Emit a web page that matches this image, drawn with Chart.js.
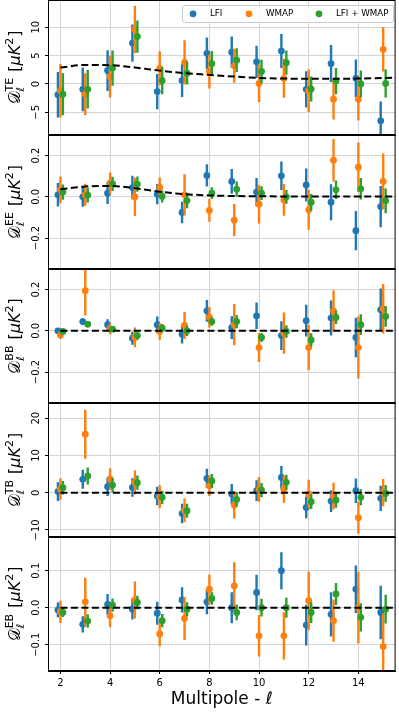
<!DOCTYPE html>
<html>
<head>
<meta charset="utf-8">
<script src="https://cdn.jsdelivr.net/npm/chart.js@4.4.1/dist/chart.umd.min.js"></script>
<style>
  body { margin: 0; background: #fff; width: 399px; height: 718px; overflow: hidden; position: relative; }
  canvas { position: absolute; left: 0; }
</style>
</head>
<body>
<script>
// Multipoles and the small offsets used to separate the three estimates
const ells = [2, 3, 4, 5, 6, 7, 8, 9, 10, 11, 12, 13, 14, 15];
const modelElls = [2, 3, 4, 5, 6, 7, 8, 9, 10, 11, 12, 13, 14, 15, 16];
const xTicks = [2, 4, 6, 8, 10, 12, 14];

// TE
const teLFI = [-1.9, -0.95, 2.35, 7.2, -1.35, 0.6, 5.4, 5.6, 3.9, 5.8, -0.95, 3.6, 1.0, -6.5];
const teLFIErr = [4.0, 3.85, 3.6, 3.3, 3.1, 2.9, 2.8, 2.75, 2.85, 3.0, 3.2, 3.25, 3.3, 3.4];
const teWMAP = [-1.2, -1.8, 1.3, 9.6, 2.75, 3.8, 2.2, 3.2, 0.1, 1.0, -1.2, -2.7, -2.7, 6.1];
const teWMAPErr = [4.7, 3.7, 3.7, 4.2, 3.0, 3.9, 3.0, 3.0, 3.3, 3.45, 3.75, 3.55, 3.75, 3.9];
const teComb = [-1.8, -0.95, 2.8, 8.35, 0.6, 1.9, 3.6, 4.2, 2.2, 3.75, -0.9, 0.5, 0.0, 0.1];
const teCombErr = [3.7, 3.4, 3.1, 2.85, 2.4, 2.0, 2.2, 2.1, 2.05, 2.15, 2.2, 2.3, 2.35, 2.5];
const teModel = [2.9, 3.35, 3.3, 2.9, 2.35, 1.9, 1.6, 1.3, 1.05, 0.95, 0.9, 0.9, 0.95, 1.05, 1.1];
const teTicks = [-5, 0, 5, 10];
const teTickLabels = ['\u22125', '0', '5', '10'];

// EE
const eeLFI = [0.01, 0.0, 0.018, 0.045, 0.013, -0.076, 0.104, 0.075, 0.023, 0.102, 0.058, -0.026, -0.164, -0.047];
const eeLFIErr = [0.057, 0.048, 0.053, 0.057, 0.049, 0.052, 0.054, 0.06, 0.069, 0.069, 0.08, 0.087, 0.095, 0.1];
const eeWMAP = [0.034, 0.01, 0.066, 0.0, 0.047, 0.01, -0.066, -0.113, -0.036, -0.015, -0.063, 0.178, 0.144, 0.075];
const eeWMAPErr = [0.065, 0.053, 0.052, 0.093, 0.047, 0.1, 0.055, 0.078, 0.093, 0.077, 0.097, 0.103, 0.12, 0.135];
const eeComb = [0.023, 0.008, 0.063, 0.062, 0.002, -0.018, 0.018, 0.037, 0.018, 0.0, -0.026, 0.034, 0.039, -0.019];
const eeCombErr = [0.037, 0.036, 0.035, 0.037, 0.03, 0.037, 0.029, 0.037, 0.033, 0.033, 0.04, 0.045, 0.052, 0.06];
const eeModel = [0.037, 0.05, 0.053, 0.042, 0.025, 0.013, 0.007, 0.004, 0.003, 0.002, 0.002, 0.002, 0.002, 0.002, 0.002];

// BB
const bbLFI = [0.0, 0.045, 0.03, -0.036, 0.03, -0.016, 0.097, 0.016, 0.073, -0.023, 0.049, 0.062, -0.032, 0.102];
const bbLFIErr = [0.012, 0.016, 0.026, 0.032, 0.04, 0.045, 0.053, 0.055, 0.064, 0.07, 0.077, 0.085, 0.096, 0.103];
const bbWMAP = [-0.02, 0.195, 0.01, -0.032, -0.003, 0.026, 0.066, 0.03, -0.081, -0.011, -0.081, 0.097, -0.081, 0.107];
const bbWMAPErr = [0.02, 0.12, 0.026, 0.048, 0.04, 0.066, 0.05, 0.1, 0.07, 0.1, 0.11, 0.1, 0.15, 0.12];
const bbComb = [-0.003, 0.032, 0.008, -0.023, 0.013, 0.0, 0.045, 0.045, -0.032, -0.003, -0.044, 0.065, 0.03, 0.07];
const bbCombErr = [0.01, 0.012, 0.012, 0.02, 0.02, 0.025, 0.02, 0.032, 0.022, 0.03, 0.032, 0.032, 0.05, 0.05];

// TB
const tbLFI = [0.3, 3.6, 1.6, 1.4, -0.9, -5.6, 3.85, -0.35, 0.55, 4.1, -3.95, -2.25, 0.55, -1.5];
const tbLFIErr = [2.5, 2.55, 2.5, 2.5, 2.5, 2.6, 2.6, 2.7, 2.8, 3.05, 2.9, 2.9, 3.3, 3.4];
const tbWMAP = [1.0, 15.7, 3.7, 2.8, -1.1, -4.7, 1.9, -3.3, 0.9, 0.9, -0.35, -0.9, -6.7, 0.0];
const tbWMAPErr = [2.9, 6.6, 2.85, 3.25, 3.1, 3.15, 2.8, 3.6, 3.35, 3.6, 3.8, 3.6, 4.35, 3.65];
const tbComb = [1.35, 4.5, 2.05, 2.7, -1.25, -4.85, 3.15, -1.8, 0.7, 2.8, -2.4, -2.0, -1.25, -0.2];
const tbCombErr = [1.8, 2.3, 1.9, 1.9, 1.8, 1.9, 1.9, 2.0, 1.9, 2.0, 2.0, 2.05, 2.15, 2.25];
const tbTicks = [-10, 0, 10, 20];
const tbTickLabels = ['\u221210', '0', '10', '20'];

// EB
const ebLFI = [-0.006, -0.045, 0.009, -0.004, -0.015, 0.021, 0.016, 0.0, 0.041, 0.1, -0.047, -0.018, 0.05, -0.013];
const ebLFIErr = [0.02, 0.022, 0.028, 0.028, 0.031, 0.034, 0.034, 0.042, 0.048, 0.05, 0.055, 0.06, 0.064, 0.072];
const ebWMAP = [-0.011, 0.016, -0.022, 0.021, -0.071, -0.029, 0.05, 0.059, -0.076, -0.076, 0.019, -0.035, 0.0, -0.105];
const ebWMAPErr = [0.03, 0.065, 0.03, 0.05, 0.033, 0.058, 0.04, 0.064, 0.056, 0.064, 0.079, 0.057, 0.097, 0.09];
const ebComb = [-0.013, -0.036, 0.007, 0.014, -0.035, -0.004, 0.025, -0.013, 0.0, 0.0, -0.013, 0.037, -0.026, -0.004];
const ebCombErr = [0.012, 0.018, 0.018, 0.018, 0.018, 0.019, 0.017, 0.021, 0.024, 0.027, 0.028, 0.03, 0.038, 0.039];
const ebTicks = [-0.1, 0.0, 0.1];
const ebTickLabels = ['\u22120.1', '0.0', '0.1'];

// zero model for BB, TB, EB
const zeroModel = [0, 0, 0, 0, 0, 0, 0, 0, 0, 0, 0, 0, 0, 0, 0];
const polTicks = [-0.2, 0.0, 0.2];
const polTickLabels = ['\u22120.2', '0.0', '0.2'];

const seriesNames = ['LFI', 'WMAP', 'LFI + WMAP'];
const seriesColors = ['#1f77b4', '#ff7f0e', '#2ca02c'];
const seriesShift = [-0.1, 0, 0.1];

const panels = [
  { spec: 'TE', vals: [teLFI, teWMAP, teComb], errs: [teLFIErr, teWMAPErr, teCombErr], model: teModel, min: -9.0, max: 14.8, ticks: teTicks, labels: teTickLabels },
  { spec: 'EE', vals: [eeLFI, eeWMAP, eeComb], errs: [eeLFIErr, eeWMAPErr, eeCombErr], model: eeModel, min: -0.35, max: 0.30, ticks: polTicks, labels: polTickLabels },
  { spec: 'BB', vals: [bbLFI, bbWMAP, bbComb], errs: [bbLFIErr, bbWMAPErr, bbCombErr], model: zeroModel, min: -0.35, max: 0.30, ticks: polTicks, labels: polTickLabels },
  { spec: 'TB', vals: [tbLFI, tbWMAP, tbComb], errs: [tbLFIErr, tbWMAPErr, tbCombErr], model: zeroModel, min: -11.9, max: 24.1, ticks: tbTicks, labels: tbTickLabels },
  { spec: 'EB', vals: [ebLFI, ebWMAP, ebComb], errs: [ebLFIErr, ebWMAPErr, ebCombErr], model: zeroModel, min: -0.171, max: 0.191, ticks: ebTicks, labels: ebTickLabels }
];

// layout
const edges = [0, 135, 269, 403, 537, 671];
const PAD = 14;
const AXIS_W = 48;
const XAXIS_H = 47;
const FONT = '"DejaVu Sans"';

Chart.defaults.font.family = 'DejaVu Sans';
Chart.defaults.color = '#000';
Chart.defaults.animation = false;

// error bars drawn right before each scatter dataset so stacking matches matplotlib
const errorBars = {
  id: 'errorBars',
  beforeDatasetDraw(chart, args) {
    const ds = chart.data.datasets[args.index];
    if (!ds.errs) return;
    const { ctx, chartArea: a, scales: { x, y } } = chart;
    ctx.save();
    ctx.beginPath();
    ctx.rect(a.left, a.top, a.right - a.left, a.bottom - a.top);
    ctx.clip();
    ctx.strokeStyle = ds.backgroundColor;
    ctx.lineWidth = 2.4;
    ds.data.forEach((p, i) => {
      const px = x.getPixelForValue(p.x);
      ctx.beginPath();
      ctx.moveTo(px, y.getPixelForValue(p.y - ds.errs[i]));
      ctx.lineTo(px, y.getPixelForValue(p.y + ds.errs[i]));
      ctx.stroke();
    });
    ctx.restore();
  }
};

function drawYLabel(ctx, cx, cy, sup) {
  const big = '16px ' + FONT, bigIt = 'oblique 16px ' + FONT;
  const small = '11px ' + FONT;
  ctx.save();
  ctx.translate(cx, cy);
  ctx.rotate(-Math.PI / 2);
  ctx.fillStyle = '#000';
  ctx.textBaseline = 'alphabetic';
  ctx.textAlign = 'left';
  const m = (t, f) => { ctx.font = f; return ctx.measureText(t).width; };
  const wD = m('\u{1D49F}', big);
  const wSup = m(sup, small), wSub = m('\u2113', small);
  const wScript = Math.max(wSup, wSub) + 1;
  const wSp = m(' ', big), wL = m('[', big), wMu = m('\u03bcK', bigIt), w2 = m('2', small), wR = m(']', big);
  const total = wD + wScript + wSp + wL + wMu + w2 + 1 + wR;
  let xx = -total / 2;
  const base = 5;
  ctx.font = big; ctx.fillText('\u{1D49F}', xx, base); xx += wD;
  ctx.font = small; ctx.fillText(sup, xx, base - 7); ctx.fillText('\u2113', xx, base + 4); xx += wScript + wSp;
  ctx.font = big; ctx.fillText('[', xx, base); xx += wL;
  ctx.font = bigIt; ctx.fillText('\u03bcK', xx, base); xx += wMu;
  ctx.font = small; ctx.fillText('2', xx, base - 7); xx += w2 + 1;
  ctx.font = big; ctx.fillText(']', xx, base);
  ctx.restore();
}

function drawLegend(chart) {
  const { ctx } = chart;
  const top = PAD + 5, h = 17, left = 182, w = 211;
  ctx.save();
  ctx.fillStyle = 'rgba(255,255,255,0.8)';
  ctx.strokeStyle = '#cccccc';
  ctx.lineWidth = 1;
  ctx.beginPath();
  ctx.roundRect(left + 0.5, top + 0.5, w, h, 2);
  ctx.fill();
  ctx.stroke();
  const markX = [193, 249, 319];
  ctx.font = '8.7px ' + FONT;
  ctx.textBaseline = 'middle';
  ctx.textAlign = 'left';
  chart.data.datasets.filter(d => d.errs).forEach((d, i) => {
    ctx.fillStyle = d.backgroundColor;
    ctx.beginPath();
    ctx.arc(markX[i], top + 8.8, 3.4, 0, Math.PI * 2);
    ctx.fill();
    ctx.fillStyle = '#000';
    ctx.fillText(d.label, markX[i] + 17, top + 9);
  });
  ctx.restore();
}

function makeFrame(panel, first) {
  return {
    id: 'frame',
    afterDraw(chart) {
      const { ctx, chartArea: a, scales: { y } } = chart;
      ctx.save();
      ctx.strokeStyle = '#000';
      ctx.lineWidth = 1;
      ctx.strokeRect(a.left + 0.5, a.top + 0.5, a.right - a.left - 1, a.bottom - a.top - 1);
      // rotated y tick labels
      ctx.font = '10px ' + FONT;
      ctx.textAlign = 'center';
      ctx.textBaseline = 'middle';
      ctx.fillStyle = '#000';
      panel.ticks.forEach((v, i) => {
        ctx.save();
        ctx.translate(36, y.getPixelForValue(v));
        ctx.rotate(-Math.PI / 2);
        ctx.fillText(panel.labels[i], 0, 0);
        ctx.restore();
      });
      ctx.restore();
      drawYLabel(ctx, 15, (a.top + a.bottom) / 2, panel.spec);
      if (first) drawLegend(chart);
    }
  };
}

panels.forEach((panel, pi) => {
  const last = pi === panels.length - 1;
  const areaH = edges[pi + 1] - edges[pi];
  const cv = document.createElement('canvas');
  const h = areaH + PAD + (last ? XAXIS_H : PAD);
  cv.width = 399;
  cv.height = h;
  cv.style.top = (edges[pi] - PAD) + 'px';
  cv.style.width = '399px';
  cv.style.height = h + 'px';
  document.body.appendChild(cv);

  const datasets = panel.vals.map((vals, k) => ({
    type: 'scatter',
    label: seriesNames[k],
    data: ells.map((l, i) => ({ x: l + seriesShift[k], y: vals[i] })),
    errs: panel.errs[k],
    backgroundColor: seriesColors[k],
    borderWidth: 0,
    pointRadius: 3.4,
    pointHoverRadius: 3.4,
    order: 3 - k
  }));
  datasets.push({
    type: 'line',
    label: 'model',
    data: modelElls.map((l, i) => ({ x: l, y: panel.model[i] })),
    borderColor: '#000',
    borderWidth: 2,
    borderDash: [7, 3.5],
    pointRadius: 0,
    fill: false,
    cubicInterpolationMode: 'monotone',
    order: 0
  });

  new Chart(cv, {
    type: 'scatter',
    data: { datasets },
    options: {
      responsive: false,
      devicePixelRatio: 1,
      events: [],
      layout: { padding: { top: PAD, bottom: last ? 0 : PAD, left: 0, right: 2 } },
      plugins: { legend: { display: false }, tooltip: { enabled: false } },
      scales: {
        x: {
          type: 'linear',
          min: 1.5,
          max: 15.5,
          afterBuildTicks: s => { s.ticks = xTicks.map(v => ({ value: v })); },
          afterFit: s => { s.height = last ? XAXIS_H : 0; },
          border: { color: '#000', width: 1 },
          grid: { color: '#d4d4d4', lineWidth: 1, drawTicks: last, tickLength: 3, tickColor: '#000' },
          ticks: { display: last, font: { size: 10 }, color: '#000', padding: 3, maxRotation: 0, autoSkip: false },
          title: { display: last, text: 'Multipole - \u2113', font: { size: 17 }, color: '#000', padding: { top: 2, bottom: 8 } }
        },
        y: {
          type: 'linear',
          min: panel.min,
          max: panel.max,
          afterBuildTicks: s => { s.ticks = panel.ticks.map(v => ({ value: v })); },
          afterFit: s => { s.width = AXIS_W; },
          border: { color: '#000', width: 1 },
          grid: { color: '#d4d4d4', lineWidth: 1, drawTicks: true, tickLength: 3, tickColor: '#000' },
          ticks: { display: false }
        }
      }
    },
    plugins: [errorBars, makeFrame(panel, pi === 0)]
  });
});
</script>
</body>
</html>
